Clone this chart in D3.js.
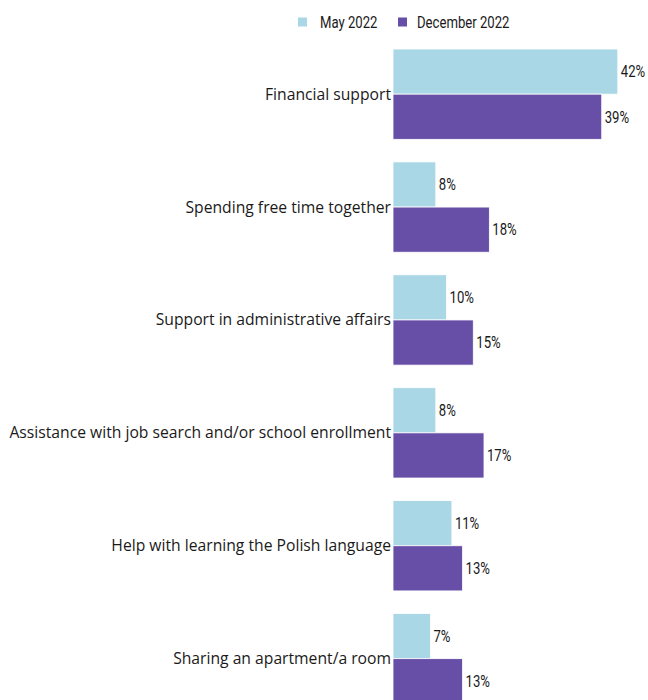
<!DOCTYPE html>
<html>
<head>
<meta charset="utf-8">
<script src="https://cdn.jsdelivr.net/npm/d3@7"></script>
<style>
  html, body { margin: 0; padding: 0; background: #fff; }
  svg { display: block; }
  .cat { font-family: "Open Sans", "Noto Sans", sans-serif; font-size: 15.7px; fill: #1a1a1a; }
  .val, .leg { font-family: Roboto, "Liberation Sans", sans-serif; font-size: 16px; fill: #1a1a1a; }
</style>
</head>
<body>
<svg id="chart" width="648" height="700"></svg>
<script>
// Forms of support, share of respondents
const categories = [
  "Financial support",
  "Spending free time together",
  "Support in administrative affairs",
  "Assistance with job search and/or school enrollment",
  "Help with learning the Polish language",
  "Sharing an apartment/a room"
];
const seriesNames = ["May 2022", "December 2022"];
const may2022 = [42, 8, 10, 8, 11, 7];
const dec2022 = [39, 18, 15, 17, 13, 13];
const colors = ["#a9d7e5", "#674fa7"];

// narrow lettering for values and legend
const narrow = 0.82;

const svg = d3.select("#chart");
const x0 = 393;

const x = d3.scaleLinear().domain([0, 42]).range([x0, x0 + 224.8]);

const step = 112.9;
const y = d3.scaleBand()
  .domain(categories)
  .range([49 - step * 0.2 / 2, 49 - step * 0.2 / 2 + step * categories.length])
  .paddingInner(0.2)
  .paddingOuter(0.1);

const ySub = d3.scaleBand().domain(seriesNames).range([0, y.bandwidth()]);

const rows = categories.map((c, i) => ({
  cat: c,
  vals: [may2022[i], dec2022[i]]
}));

const g = svg.append("g");

const groups = g.selectAll("g.row").data(rows).join("g")
  .attr("class", "row")
  .attr("transform", d => `translate(0,${y(d.cat)})`);

groups.selectAll("rect").data(d => d.vals.map((v, k) => ({ v, k }))).join("rect")
  .attr("x", x(0))
  .attr("y", d => ySub(seriesNames[d.k]))
  .attr("width", d => x(d.v) - x(0))
  .attr("height", ySub.bandwidth())
  .attr("fill", d => colors[d.k])
  .attr("stroke", "#ffffff")
  .attr("stroke-width", 0.8);

groups.selectAll("text.val").data(d => d.vals.map((v, k) => ({ v, k }))).join("text")
  .attr("class", "val")
  .attr("transform", d => `translate(${x(d.v) + 3},${ySub(seriesNames[d.k]) + ySub.bandwidth() / 2}) scale(${narrow},1)`)
  .attr("dy", "0.36em")
  .text(d => d.v + "%");

groups.append("text")
  .attr("class", "cat")
  .attr("x", x0 - 2)
  .attr("y", y.bandwidth() / 2)
  .attr("dy", "0.35em")
  .attr("text-anchor", "end")
  .text(d => d.cat);

// Legend
const legendPos = [298, 398];
const legend = svg.append("g").selectAll("g").data(seriesNames).join("g")
  .attr("transform", (d, i) => `translate(${legendPos[i]},22)`);
legend.append("rect")
  .attr("x", 0).attr("y", -4.5)
  .attr("width", 9).attr("height", 9)
  .attr("fill", (d, i) => colors[i]);
legend.append("text")
  .attr("class", "leg")
  .attr("transform", (d, i) => `translate(${i ? 19 : 22},0) scale(${narrow},1)`)
  .attr("dy", "0.36em")
  .text(d => d);
</script>
</body>
</html>
